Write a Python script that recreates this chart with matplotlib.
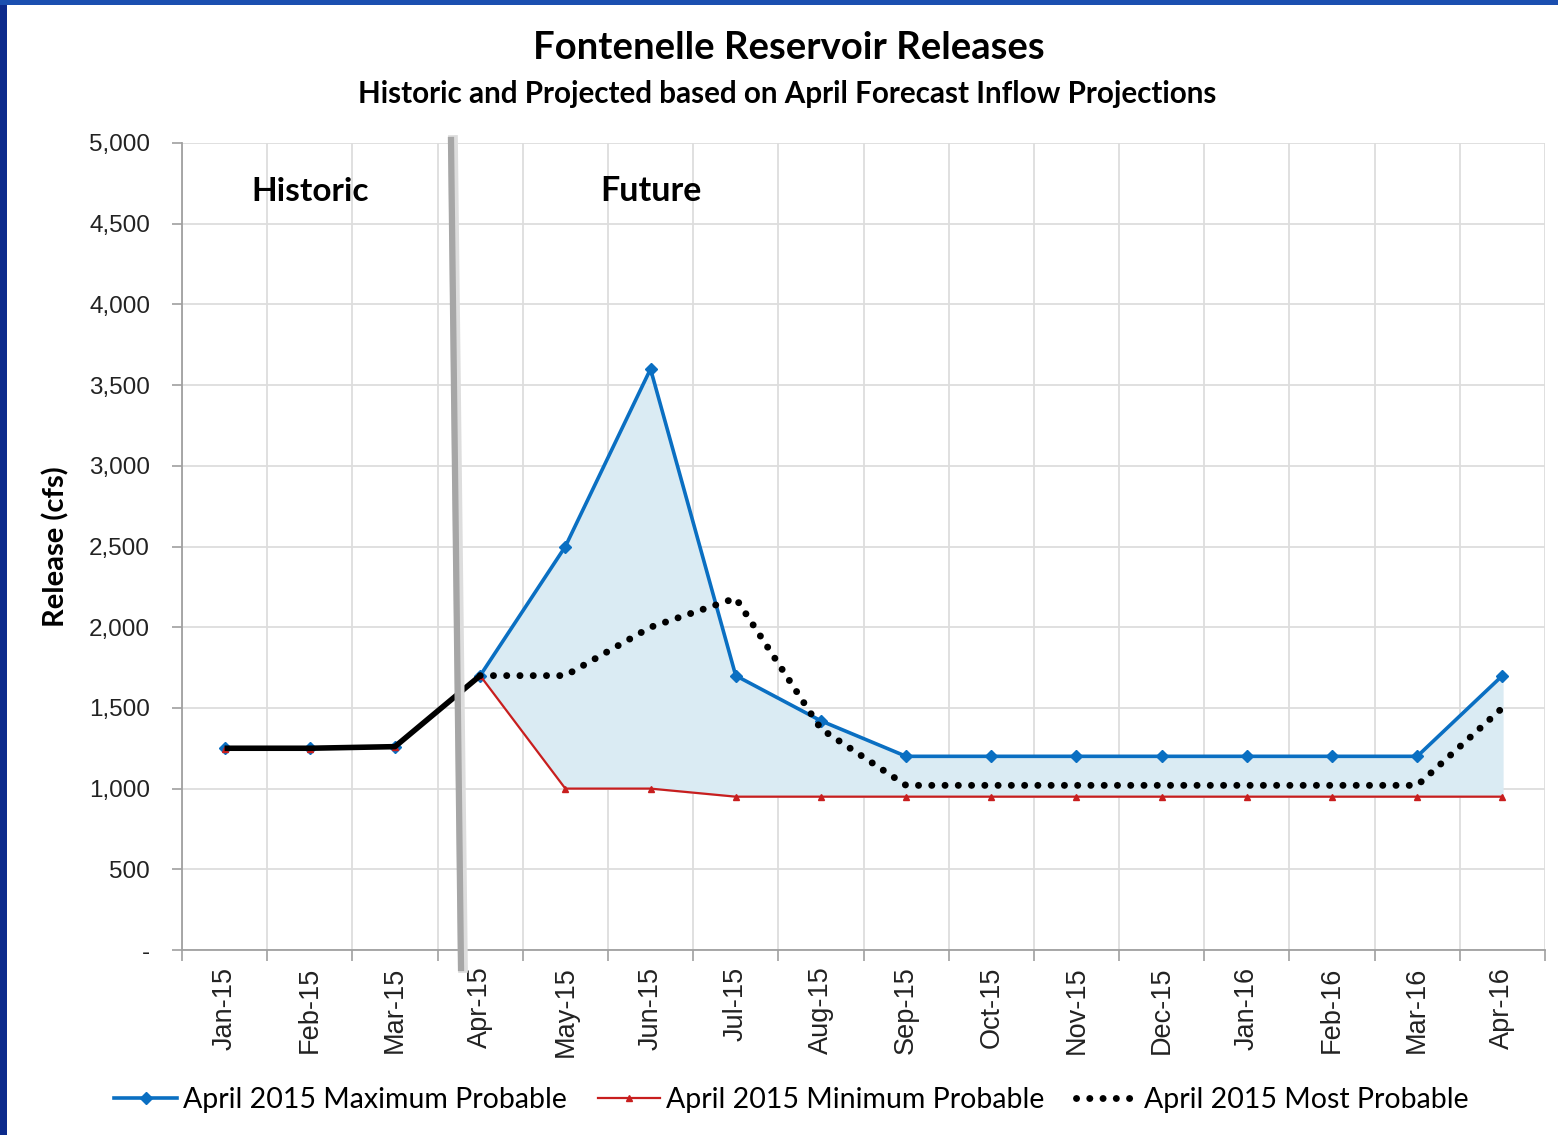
import numpy as np
import matplotlib
matplotlib.use('Agg')
import matplotlib.pyplot as plt
from matplotlib.lines import Line2D
from matplotlib.patches import Rectangle

months = ['Jan-15', 'Feb-15', 'Mar-15', 'Apr-15', 'May-15', 'Jun-15', 'Jul-15', 'Aug-15',
          'Sep-15', 'Oct-15', 'Nov-15', 'Dec-15', 'Jan-16', 'Feb-16', 'Mar-16', 'Apr-16']
max_prob = [1250, 1250, 1260, 1700, 2500, 3600, 1700, 1420, 1200, 1200, 1200, 1200, 1200, 1200, 1200, 1700]
min_prob = [1245, 1245, 1260, 1700, 1000, 1000, 950, 950, 950, 950, 950, 950, 950, 950, 950, 950]
most_prob = [1250, 1250, 1260, 1700, 1700, 2000, 2180, 1370, 1020, 1020, 1020, 1020, 1020, 1020, 1020, 1500]
n_hist = 4  # Jan-Apr 2015 drawn as historic

fig = plt.figure(figsize=(15.58, 11.35), dpi=100)
ax = fig.add_axes([182/1558, 1-950/1135, (1545-182)/1558, (950-143)/1135])

x = np.arange(len(months))
blue = '#0A6FC2'
red = '#C81E1E'

ax.fill_between(x[n_hist-1:], min_prob[n_hist-1:], max_prob[n_hist-1:], color='#DAEBF3', zorder=1)
ax.plot(x, max_prob, color=blue, lw=2.6, marker='D', ms=6, label='April 2015 Maximum Probable', zorder=3)
ax.plot(x, min_prob, color=red, lw=1.6, marker='^', ms=5, label='April 2015 Minimum Probable', zorder=3)
ax.plot(x[n_hist-1:], most_prob[n_hist-1:], color='black', lw=5, linestyle=(0, (0.01, 1.9)),
        dash_capstyle='round', label='April 2015 Most Probable', zorder=4)
ax.plot(x[:n_hist], most_prob[:n_hist], color='black', lw=4, solid_capstyle='butt', zorder=5)

ax.set_xlim(-0.5, len(months)-0.5)
ax.set_ylim(0, 5000)
ax.set_yticks(np.arange(0, 5001, 500))
ax.set_yticklabels(['-'] + ['{:,}'.format(v) for v in range(500, 5001, 500)],
                   fontsize=17.5, family='Liberation Sans', color='#222222')
ax.set_xticks(x)
ax.set_xticklabels(months, rotation=90, fontsize=19.5, family='Liberation Sans', color='#222222')
ax.set_xticks(np.arange(-0.5, len(months)), minor=True)
ax.tick_params(axis='x', which='major', length=0, pad=12)
ax.tick_params(axis='x', which='minor', length=8, color='#A0A0A0', width=1.2)
ax.tick_params(axis='y', length=7, color='#A0A0A0', width=1.2, pad=16)
ax.grid(True, axis='x', which='minor', color='#DDDDDD', lw=1.3)
ax.grid(True, axis='y', which='major', color='#DDDDDD', lw=1.3)
ax.set_axisbelow(True)
for s in ['top', 'right']:
    ax.spines[s].set_visible(False)
for s in ['left', 'bottom']:
    ax.spines[s].set_color('#A0A0A0')
    ax.spines[s].set_linewidth(1.3)

ax.set_ylabel('Release (cfs)', fontsize=21, fontweight='bold', family='Lato', labelpad=14)
ax.text(1.0, 4700, 'Historic', fontsize=24, fontweight='bold', family='Lato', ha='center', va='center')
ax.text(5.0, 4700, 'Future', fontsize=24.5, fontweight='bold', family='Lato', ha='center', va='center')

fig.text(0.506, 1-48/1135, 'Fontenelle Reservoir Releases', fontsize=27.5, fontweight='bold',
         family='Lato', ha='center', va='center')
fig.text(0.505, 1-94/1135, 'Historic and Projected based on April Forecast Inflow Projections',
         fontsize=21.3, fontweight='bold', family='Lato', ha='center', va='center')

# divider between historic and future
fig.add_artist(Line2D([453/1558, 463/1558], [1-140/1135, 1-968/1135], color='#DDDDDD', lw=7))
fig.add_artist(Line2D([451/1558, 461/1558], [1-140/1135, 1-968/1135], color='#A6A6A6', lw=4.5))

# slide frame
fig.add_artist(Rectangle((0, 0), 7/1558, 1, transform=fig.transFigure, color='#0C2A8C', lw=0))
fig.add_artist(Rectangle((0, 1-5/1135), 1, 5/1135, transform=fig.transFigure, color='#1B4FB0', lw=0))

leg = fig.legend(loc='center', bbox_to_anchor=(0.508, 1-1100/1135), ncol=3, frameon=False,
                 prop={'family': 'Lato', 'size': 20.5}, handlelength=2.2, handletextpad=0.2,
                 columnspacing=1.1)

fig.savefig('out.png', dpi=100)
